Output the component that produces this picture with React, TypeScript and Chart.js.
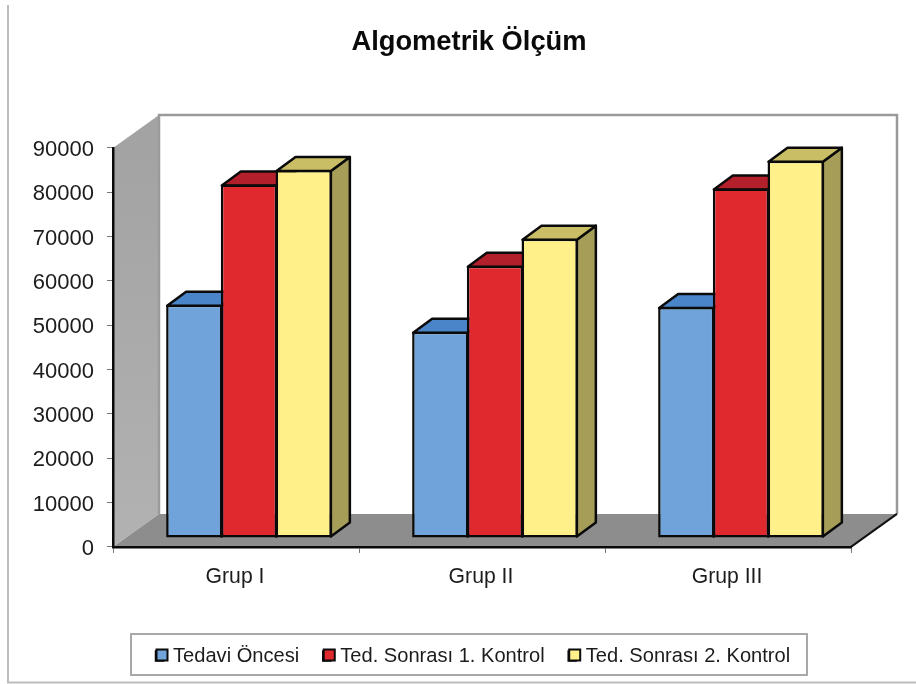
import React, { useEffect, useRef } from "react";
import { Chart, registerables } from "chart.js";

Chart.register(...registerables);

const categories = ["Grup I", "Grup II", "Grup III"];
const seriesNames = ["Tedavi Öncesi", "Ted. Sonrası 1. Kontrol", "Ted. Sonrası 2. Kontrol"];
const tedaviOncesi = [52600, 46500, 52100];
const sonrasi1 = [79700, 61400, 78800];
const sonrasi2 = [83000, 67500, 85100];

const FONT = '"Liberation Sans", Arial, sans-serif';
const frontColors = ["#6fa3d9", "#e0292f", "#fff08a"];
const topColors = ["#4a84c9", "#b3202b", "#c9bd66"];
const sideColors = ["#3f70ad", "#97161f", "#a69d58"];

const WALL = { dx: 46, dy: -33 };
const BAR_SHIFT = { dx: 13, dy: -9 };
const BAR_DEPTH = { dx: 19, dy: -14 };

const poly = (ctx: CanvasRenderingContext2D, pts: number[][]) => {
  ctx.beginPath();
  pts.forEach((p, i) => (i ? ctx.lineTo(p[0], p[1]) : ctx.moveTo(p[0], p[1])));
  ctx.closePath();
};

const scene = {
  id: "scene",
  afterLayout(chart: any) {
    const t = chart.titleBlock;
    if (t) {
      t.left = 0;
      t.right = 938;
    }
    const l = chart.legend;
    if (l) {
      const dx = 132 - l.left;
      const dy = 622 - l.top;
      l.left += dx;
      l.right += dx;
      l.top += dy;
      l.bottom += dy;
      (l.legendHitBoxes || []).forEach((b: any) => {
        b.left += dx;
        b.top += dy;
      });
    }
  },
  beforeDraw(chart: any) {
    const ctx: CanvasRenderingContext2D = chart.ctx;
    const { left, right, top, bottom } = chart.chartArea;
    const bl = left + WALL.dx;
    const br = right + WALL.dx;
    const bt = top + WALL.dy;
    const bb = bottom + WALL.dy;
    ctx.save();
    ctx.fillStyle = "#ffffff";
    ctx.fillRect(0, 0, chart.width, chart.height);

    // page frame
    ctx.strokeStyle = "#bdbdbd";
    ctx.lineWidth = 2;
    ctx.beginPath();
    ctx.moveTo(8, 5);
    ctx.lineTo(8, 682.5);
    ctx.lineTo(916, 682.5);
    ctx.stroke();

    // side wall
    const g = ctx.createLinearGradient(0, top, 0, bottom);
    g.addColorStop(0, "#a3a3a3");
    g.addColorStop(1, "#b2b2b2");
    ctx.fillStyle = g;
    poly(ctx, [[left, top], [bl, bt], [bl, bb], [left, bottom]]);
    ctx.fill();

    // back wall outline
    ctx.strokeStyle = "#9a9a9a";
    ctx.lineWidth = 2.5;
    ctx.beginPath();
    ctx.moveTo(bl, bb);
    ctx.lineTo(bl, bt);
    ctx.lineTo(br, bt);
    ctx.lineTo(br, bb);
    ctx.stroke();

    // floor
    ctx.fillStyle = "#8d8d8d";
    poly(ctx, [[left, bottom], [bl, bb], [br, bb], [right, bottom]]);
    ctx.fill();
    ctx.strokeStyle = "#111111";
    ctx.lineWidth = 2;
    ctx.beginPath();
    ctx.moveTo(right, bottom);
    ctx.lineTo(br, bb);
    ctx.stroke();

    // legend frame
    ctx.fillStyle = "#ffffff";
    ctx.strokeStyle = "#a8a8a8";
    ctx.lineWidth = 2;
    ctx.beginPath();
    ctx.rect(131, 634, 676, 41);
    ctx.fill();
    ctx.stroke();
    ctx.restore();
  },
  beforeDatasetsDraw(chart: any) {
    const ctx: CanvasRenderingContext2D = chart.ctx;
    ctx.save();
    ctx.translate(BAR_SHIFT.dx, BAR_SHIFT.dy);
    ctx.lineWidth = 2.5;
    ctx.lineJoin = "round";
    ctx.strokeStyle = "#0a0a0a";
    chart.data.datasets.forEach((_: any, di: number) => {
      chart.getDatasetMeta(di).data.forEach((bar: any) => {
        const L = bar.x - bar.width / 2 + 1;
        const R = bar.x + bar.width / 2 - 1;
        const T = bar.y + 1;
        const B = bar.base - 1;
        const { dx, dy } = BAR_DEPTH;
        poly(ctx, [[R, T], [R + dx, T + dy], [R + dx, B + dy], [R, B]]);
        ctx.fillStyle = sideColors[di];
        ctx.fill();
        ctx.stroke();
        poly(ctx, [[L, T], [L + dx, T + dy], [R + dx, T + dy], [R, T]]);
        ctx.fillStyle = topColors[di];
        ctx.fill();
        ctx.stroke();
      });
    });
  },
  afterDatasetsDraw(chart: any) {
    chart.ctx.restore();
  },
  afterDraw(chart: any) {
    const ctx: CanvasRenderingContext2D = chart.ctx;
    const l = chart.legend;
    if (!l) return;
    ctx.save();
    ctx.lineWidth = 2;
    ctx.strokeStyle = "#0a0a0a";
    l.legendHitBoxes.forEach((b: any, i: number) => {
      const y = 655 - 5.5;
      ctx.fillStyle = frontColors[i];
      ctx.fillRect(b.left + 0.5, y, 11, 11);
      ctx.strokeRect(b.left + 0.5, y, 11, 11);
    });
    ctx.restore();
  },
};

export default function App() {
  const ref = useRef<HTMLCanvasElement>(null);
  useEffect(() => {
    const chart = new Chart(ref.current!, {
      type: "bar",
      data: {
        labels: categories,
        datasets: [tedaviOncesi, sonrasi1, sonrasi2].map((values, i) => ({
          label: seriesNames[i],
          data: values,
          backgroundColor: frontColors[i],
          borderColor: "#0a0a0a",
          borderWidth: 2.5,
          borderSkipped: false,
          categoryPercentage: 0.667,
          barPercentage: 1.03,
          clip: false,
        })),
      } as any,
      options: {
        animation: false,
        responsive: false,
        layout: { padding: { left: 0, right: 65, top: 0, bottom: 23 } },
        plugins: {
          tooltip: { enabled: false },
          title: {
            display: true,
            text: "Algometrik Ölçüm",
            color: "#0a0a0a",
            font: { family: FONT, size: 27.3, weight: "bold" },
            padding: { top: 26, bottom: 89.2 },
          },
          legend: {
            display: true,
            position: "bottom",
            align: "start",
            labels: {
              boxWidth: 7,
              boxHeight: 9,
              padding: 24,
              color: "#1c1c1c",
              font: { family: FONT, size: 20.1 },
            },
          },
        },
        scales: {
          x: {
            afterFit: (s: any) => {
              s.height = 60;
            },
            border: { color: "#0a0a0a", width: 2.5 },
            grid: { drawOnChartArea: false, tickLength: 6, color: "#777777" },
            ticks: { color: "#1c1c1c", font: { family: FONT, size: 21.2 }, padding: 12, labelOffset: -1 },
          },
          y: {
            min: 0,
            max: 90000,
            afterFit: (s: any) => {
              s.width = 113;
            },
            border: { color: "#0a0a0a", width: 2.5 },
            grid: { drawOnChartArea: false, tickLength: 6, color: "#777777" },
            ticks: {
              stepSize: 10000,
              callback: (v: any) => String(v),
              color: "#1c1c1c",
              font: { family: FONT, size: 22 },
              padding: 13,
              labelOffset: 2,
            },
          },
        },
      },
      plugins: [scene],
    } as any);
    return () => chart.destroy();
  }, []);
  return (
    <div style={{ position: "fixed", left: 0, top: 0, width: 916, height: 684, background: "#fff" }}>
      <canvas ref={ref} width={916} height={684} style={{ display: "block" }} />
    </div>
  );
}
